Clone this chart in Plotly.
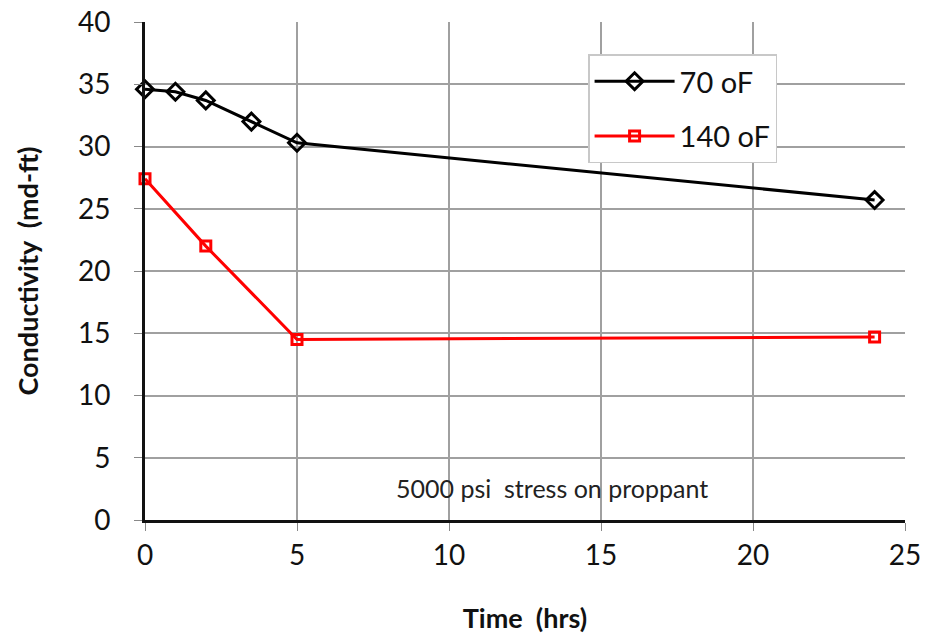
import plotly.graph_objects as go

time_70 = [0, 1, 2, 3.5, 5, 24]
cond_70 = [34.6, 34.4, 33.7, 32.0, 30.3, 25.7]
time_140 = [0, 2, 5, 24]
cond_140 = [27.4, 22.0, 14.5, 14.7]
x_ticks = [0, 5, 10, 15, 20, 25]
y_ticks = [0, 5, 10, 15, 20, 25, 30, 35, 40]

FONT = "Lato, Carlito, Calibri, sans-serif"

fig = go.Figure()
fig.add_trace(go.Scatter(
    x=time_70, y=cond_70, mode="lines+markers", name="70 oF", legendgroup="a",
    line=dict(color="black", width=3),
    marker=dict(symbol="diamond-open", size=13, color="black", line=dict(width=3)),
    cliponaxis=False,
))
fig.add_trace(go.Scatter(
    x=time_140, y=cond_140, mode="lines+markers", name="140 oF", legendgroup="b",
    line=dict(color="#ff0000", width=3),
    marker=dict(symbol="square-open", size=10, color="#ff0000", line=dict(width=3)),
    cliponaxis=False,
))

fig.add_annotation(x=13.4, y=2.6, xref="x", yref="y", text="5000 psi  stress on proppant",
                   showarrow=False, font=dict(family=FONT, size=25, color="#222"))

fig.update_layout(
    width=932, height=641,
    margin=dict(l=145, r=27, t=22, b=121, autoexpand=False),
    paper_bgcolor="white", plot_bgcolor="white",
    font=dict(family=FONT, size=28, color="#111"),
    showlegend=True,
    legend=dict(x=0.583, y=0.935, xanchor="left", yanchor="top",
                bordercolor="#c8c8c8", borderwidth=1.5, bgcolor="white",
                font=dict(family=FONT, size=29, color="#111"),
                itemwidth=80, tracegroupgap=14),
    xaxis=dict(range=[0, 25], tickvals=x_ticks, showgrid=True, gridcolor="#a0a0a0", gridwidth=1.5,
               showline=True, linecolor="#111", linewidth=3, ticks="outside", ticklen=8,
               tickcolor="#888", tickwidth=1, zeroline=False, automargin=False,
               ticklabeloverflow="allow",
               title=dict(text="<b>Time  (hrs)</b>", font=dict(family=FONT, size=27), standoff=40),
               tickfont=dict(family=FONT, size=28)),
    yaxis=dict(range=[0, 40], tickvals=y_ticks, showgrid=True, gridcolor="#a0a0a0", gridwidth=1.5,
               showline=True, linecolor="#111", linewidth=3, ticks="outside", ticklen=8,
               tickcolor="#888", tickwidth=1, zeroline=False, automargin=False,
               ticklabelstandoff=18, ticklabeloverflow="allow",
               title=dict(text="<b>Conductivity  (md-ft)</b>", font=dict(family=FONT, size=27), standoff=32),
               tickfont=dict(family=FONT, size=28)),
)

fig.write_html("out.html", config={"displayModeBar": False},
               post_script="document.body.style.margin='0';document.body.style.overflow='hidden';")
